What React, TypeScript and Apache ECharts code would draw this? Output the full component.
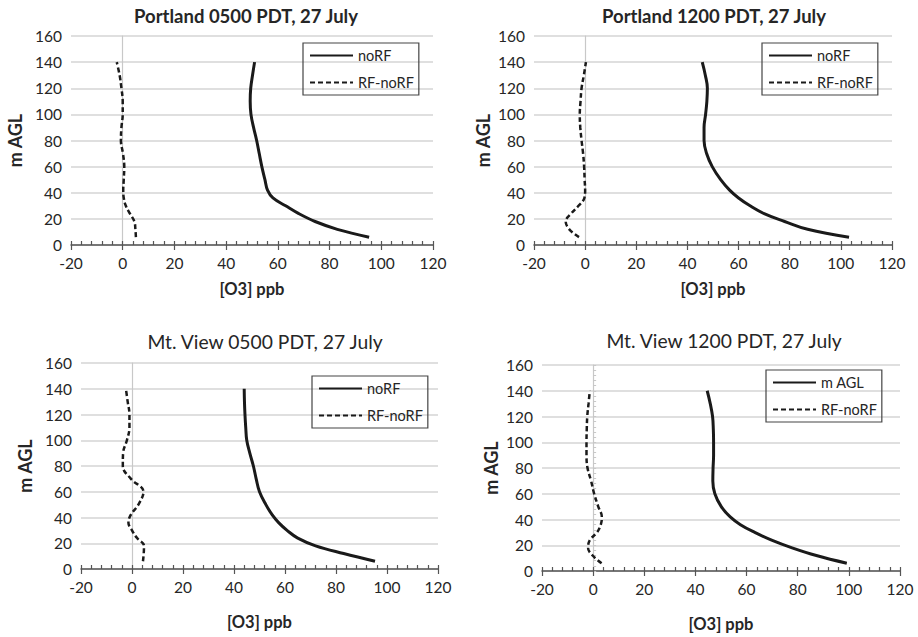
import React, { useEffect, useRef } from "react";
import * as echarts from "echarts";

// Heights (m AGL) of the model levels, shared by all panels
const heights = [6, 12, 18, 24, 30, 36, 42, 50, 60, 70, 80, 90, 100, 110, 120, 130, 140];

// Portland 0500 PDT
const portland05NoRF = [95.3, 83, 74.4, 68.1, 63, 58.1, 56, 55, 53.8, 52.8, 51.8, 50.6, 49.6, 49.3, 49.5, 50.2, 51];
const portland05Diff = [5.1, 4.9, 4.5, 2.8, 1.2, 0.4, 0.2, 0.4, 0.6, 0.1, -0.7, -0.5, 0, 0, -0.5, -1.2, -2.3];
// Portland 1200 PDT
const portland12NoRF = [103.2, 87, 78, 70, 64.5, 60, 56.5, 53, 49.7, 47.5, 46.5, 46.5, 47.1, 47.6, 47.8, 47, 45.8];
const portland12Diff = [-2.4, -6.2, -7.6, -5.5, -2.6, -0.3, 0, -0.2, -0.4, -0.8, -1.4, -1.9, -2.1, -1.8, -1.4, -0.5, 0.3];
// Mt. View 0500 PDT
const mtview05NoRF = [95.3, 83, 72, 65, 60.8, 57.5, 55, 52.5, 50, 48.7, 47.6, 46.2, 45, 44.6, 44.3, 44.1, 44];
const mtview05Diff = [4.3, 4.6, 4.7, 2, 0, -1.4, -0.5, 2.5, 4.5, -0.4, -3.6, -3.5, -2, -1, -1, -1.7, -2.4];
// Mt. View 1200 PDT
const mtview12NoRF = [99.2, 87.3, 77.8, 69.8, 63.2, 57.6, 53.6, 50.1, 47.6, 46.8, 46.9, 47.1, 47.1, 47, 46.7, 45.8, 44.6];
const mtview12Diff = [3.3, -0.2, -2, -1.3, 1.5, 3, 3.4, 2, 0.4, -0.8, -2.2, -2.6, -2.6, -2.5, -2.3, -1.8, -1.3];

const panelTitles = [
  "Portland 0500 PDT, 27 July",
  "Portland 1200 PDT, 27 July",
  "Mt. View 0500 PDT, 27 July",
  "Mt. View 1200 PDT, 27 July",
];
const solidNames = ["noRF", "noRF", "noRF", "m AGL"];
const dashedName = "RF-noRF";
const xAxisName = "[O3] ppb";
const yAxisName = "m AGL";

const xMin = -20, xMax = 120, xStep = 20;
const yMin = 0, yMax = 160, yStep = 20;

const panelSolid = [portland05NoRF, portland12NoRF, mtview05NoRF, mtview12NoRF];
const panelDashed = [portland05Diff, portland12Diff, mtview05Diff, mtview12Diff];

// layout (pixels)
const grids = [
  { left: 71, top: 36, width: 362, height: 209 },
  { left: 534, top: 36, width: 358, height: 209 },
  { left: 81, top: 363, width: 357, height: 206 },
  { left: 542, top: 365, width: 358, height: 206 },
];
const titlePos = [
  { x: 241, y: 1, bold: true, size: 18.5 },
  { x: 709, y: 1, bold: true, size: 18.5 },
  { x: 260, y: 327, bold: false, size: 19.3 },
  { x: 719, y: 326, bold: false, size: 19.3 },
];
const legendPos = [
  { left: 303, top: 43 },
  { left: 762, top: 43 },
  { left: 312, top: 376 },
  { left: 766, top: 370 },
];

const FONT = "Lato, 'Open Sans', sans-serif";
const TXT = "#262626";

function pairs(xs: number[]) {
  return xs.map((v, i) => [v, heights[i]]);
}

export default function App() {
  const ref = useRef<HTMLDivElement>(null);
  useEffect(() => {
    document.body.style.margin = "0";
    const chart = echarts.init(ref.current!, null, { renderer: "svg" });
    const xAxis: any[] = [];
    const yAxis: any[] = [];
    const series: any[] = [];
    const title: any[] = [];
    const legend: any[] = [];
    grids.forEach((g, i) => {
      xAxis.push({
        type: "value", gridIndex: i, min: xMin, max: xMax, interval: xStep, position: "bottom",
        axisLine: { onZero: false, lineStyle: { color: "#555", width: 1.5 } },
        axisTick: { show: true, length: 5, lineStyle: { color: "#555", width: 1.2 } },
        axisLabel: { color: TXT, fontSize: 15.5, fontFamily: FONT, margin: 10 },
        splitLine: { show: false },
        name: xAxisName, nameLocation: "middle", nameGap: i >= 2 ? 44 : 35,
        nameTextStyle: { color: TXT, fontSize: 16.5, fontWeight: "bold", fontFamily: FONT },
      });
      xAxis.push({
        type: "value", gridIndex: i, min: xMin, max: xMax, interval: xStep, position: "bottom",
        axisLine: { show: false, onZero: false },
        axisTick: { show: true, inside: true, length: 4, lineStyle: { color: "#555", width: 1.2 } },
        minorTick: { show: true, splitNumber: 5, length: 4, lineStyle: { color: "#555", width: 1.2 } },
        axisLabel: { show: false },
        splitLine: { show: false },
      });
      yAxis.push({
        type: "value", gridIndex: i, min: yMin, max: yMax, interval: yStep, position: "left",
        axisLine: { show: false, onZero: false },
        axisTick: { show: false },
        axisLabel: { color: TXT, fontSize: 15.5, fontFamily: FONT, margin: 9 },
        splitLine: { show: true, lineStyle: { color: "#d4d4d4", width: 1.5 } },
        name: yAxisName, nameLocation: "middle", nameGap: i % 2 === 0 ? 47 : 42, nameRotate: 90,
        nameTextStyle: { color: TXT, fontSize: 18, fontWeight: "bold", fontFamily: FONT },
      });
      yAxis.push({
        type: "value", gridIndex: i, min: yMin, max: yMax, interval: yStep, position: "left",
        axisLine: { show: true, onZero: true, lineStyle: { color: "#c8c8c8", width: 1.2 } },
        axisTick: { show: i === 3, inside: true, length: 3, lineStyle: { color: "#c8c8c8" } },
        minorTick: { show: i === 3, splitNumber: 5, length: 3, lineStyle: { color: "#c8c8c8" } },
        axisLabel: { show: false },
        splitLine: { show: false },
      });
      series.push({
        type: "line", name: solidNames[i], xAxisIndex: 2 * i, yAxisIndex: 2 * i,
        data: pairs(panelSolid[i]), smooth: 0.4, symbol: "none",
        lineStyle: { color: "#1a1a1a", width: 3 }, itemStyle: { color: "#1a1a1a" },
      });
      series.push({
        type: "line", name: dashedName, xAxisIndex: 2 * i, yAxisIndex: 2 * i,
        data: pairs(panelDashed[i]), smooth: 0.4, symbol: "none",
        lineStyle: { color: "#1a1a1a", width: 2.5, type: [5, 3] }, itemStyle: { color: "#1a1a1a" },
      });
      title.push({
        text: panelTitles[i], left: titlePos[i].x, top: titlePos[i].y, textAlign: "center",
        textStyle: { color: TXT, fontSize: titlePos[i].size, fontWeight: titlePos[i].bold ? "bold" : "normal", fontFamily: FONT },
      });
      legend.push({
        data: [solidNames[i], dashedName], orient: "vertical",
        left: legendPos[i].left, top: legendPos[i].top,
        itemWidth: 43, itemHeight: 12, itemGap: 12,
        itemStyle: { opacity: 0 },
        padding: [5, 5, 5, 6], borderColor: "#444", borderWidth: 1.2,
        textStyle: { color: TXT, fontSize: 14.5, fontFamily: FONT },
        selectedMode: false,
      });
    });
    chart.setOption({
      animation: false,
      backgroundColor: "#fff",
      title, legend,
      grid: grids.map((g) => ({ ...g, containLabel: false })),
      xAxis, yAxis, series,
    });
    return () => chart.dispose();
  }, []);
  return <div ref={ref} style={{ position: "absolute", left: 0, top: 0, width: 918, height: 637 }} />;
}
